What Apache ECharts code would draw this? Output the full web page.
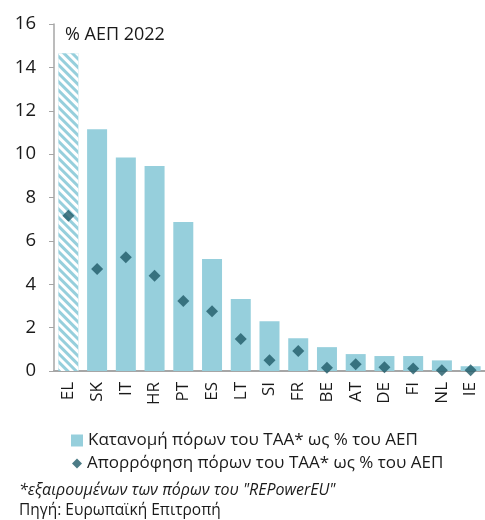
<!DOCTYPE html>
<html>
<head>
<meta charset="utf-8">
<script src="https://cdn.jsdelivr.net/npm/echarts@6/dist/echarts.min.js"></script>
<style>
  html, body { margin: 0; padding: 0; background: #fff; }
  #chart { width: 485px; height: 520px; }
</style>
</head>
<body>
<div id="chart"></div>
<script>
// Member states, ordered by RRF allocation
const countries = ['EL', 'SK', 'IT', 'HR', 'PT', 'ES', 'LT', 'SI', 'FR', 'BE', 'AT', 'DE', 'FI', 'NL', 'IE'];
// RRF allocation, % of 2022 GDP
const allocation = [14.65, 11.15, 9.85, 9.45, 6.87, 5.16, 3.32, 2.29, 1.51, 1.1, 0.78, 0.69, 0.69, 0.49, 0.22];
// RRF absorption, % of 2022 GDP
const absorption = [7.16, 4.7, 5.25, 4.39, 3.23, 2.76, 1.47, 0.49, 0.92, 0.15, 0.31, 0.17, 0.12, 0.03, 0.04];
const yTicks = { min: 0, max: 16, interval: 2 };

const allocName = 'Κατανομή πόρων του ΤΑΑ* ως % του ΑΕΠ';
const absName = 'Απορρόφηση πόρων του ΤΑΑ* ως % του ΑΕΠ';
const FONT = 'Open Sans';
const TEXT = '#1a1a1a';

const barColor = '#96CFDC';
const markColor = '#1F5A68';

// Greece is shown with a hatched bar
const barData = allocation.map((v, i) => i === 0 ? {
  value: v,
  itemStyle: {
    color: barColor,
    decal: {
      symbol: 'rect',
      symbolSize: 1,
      dashArrayX: [1, 0],
      dashArrayY: [3, 3],
      rotation: Math.PI / 4,
      color: '#ffffff'
    }
  }
} : v);

const chart = echarts.init(document.getElementById('chart'), null, { renderer: 'canvas' });
chart.setOption({
  animation: false,
  backgroundColor: '#fff',
  textStyle: { fontFamily: FONT },
  grid: { left: 54, right: -5, top: 24, bottom: 149 },
  title: [
    { text: '% ΑΕΠ 2022', left: 60, top: 21,
      textStyle: { fontFamily: FONT, fontSize: 18, fontWeight: 'normal', color: TEXT } },
    { text: '*εξαιρουμένων των πόρων του "REPowerEU"', left: 14, top: 477,
      textStyle: { fontFamily: FONT, fontSize: 16, fontStyle: 'italic', fontWeight: 'normal', color: TEXT } },
    { text: 'Πηγή: Ευρωπαϊκή Επιτροπή', left: 14, top: 498,
      textStyle: { fontFamily: FONT, fontSize: 15.5, fontWeight: 'normal', color: TEXT } }
  ],
  legend: [
    { data: [{ name: allocName, icon: 'rect' }], left: 66, top: 427, itemWidth: 12, itemHeight: 12, itemGap: 6,
      textStyle: { fontFamily: FONT, fontSize: 17, color: TEXT } },
    { data: [{ name: absName, icon: 'diamond' }], left: 67, top: 450, itemWidth: 10, itemHeight: 10, itemGap: 6,
      textStyle: { fontFamily: FONT, fontSize: 17, color: TEXT } }
  ],
  xAxis: {
    type: 'category',
    data: countries,
    axisLine: { lineStyle: { color: '#A6A6A6', width: 2 } },
    axisTick: { show: false },
    axisLabel: { rotate: 90, fontFamily: FONT, fontSize: 17, color: TEXT, margin: 11 }
  },
  yAxis: {
    type: 'value',
    min: yTicks.min, max: yTicks.max, interval: yTicks.interval,
    splitLine: { show: false },
    axisLine: { show: true, lineStyle: { color: '#A6A6A6', width: 1.5 } },
    axisTick: { show: true, length: 5, lineStyle: { color: '#A6A6A6' } },
    axisLabel: { fontFamily: FONT, fontSize: 18.5, color: TEXT, margin: 18 }
  },
  series: [
    {
      name: allocName,
      type: 'bar',
      data: barData,
      barWidth: 20,
      itemStyle: { color: barColor }
    },
    {
      name: absName,
      type: 'scatter',
      data: absorption,
      symbol: 'diamond',
      symbolSize: 12,
      itemStyle: { color: markColor },
      z: 5
    }
  ]
});
</script>
</body>
</html>
